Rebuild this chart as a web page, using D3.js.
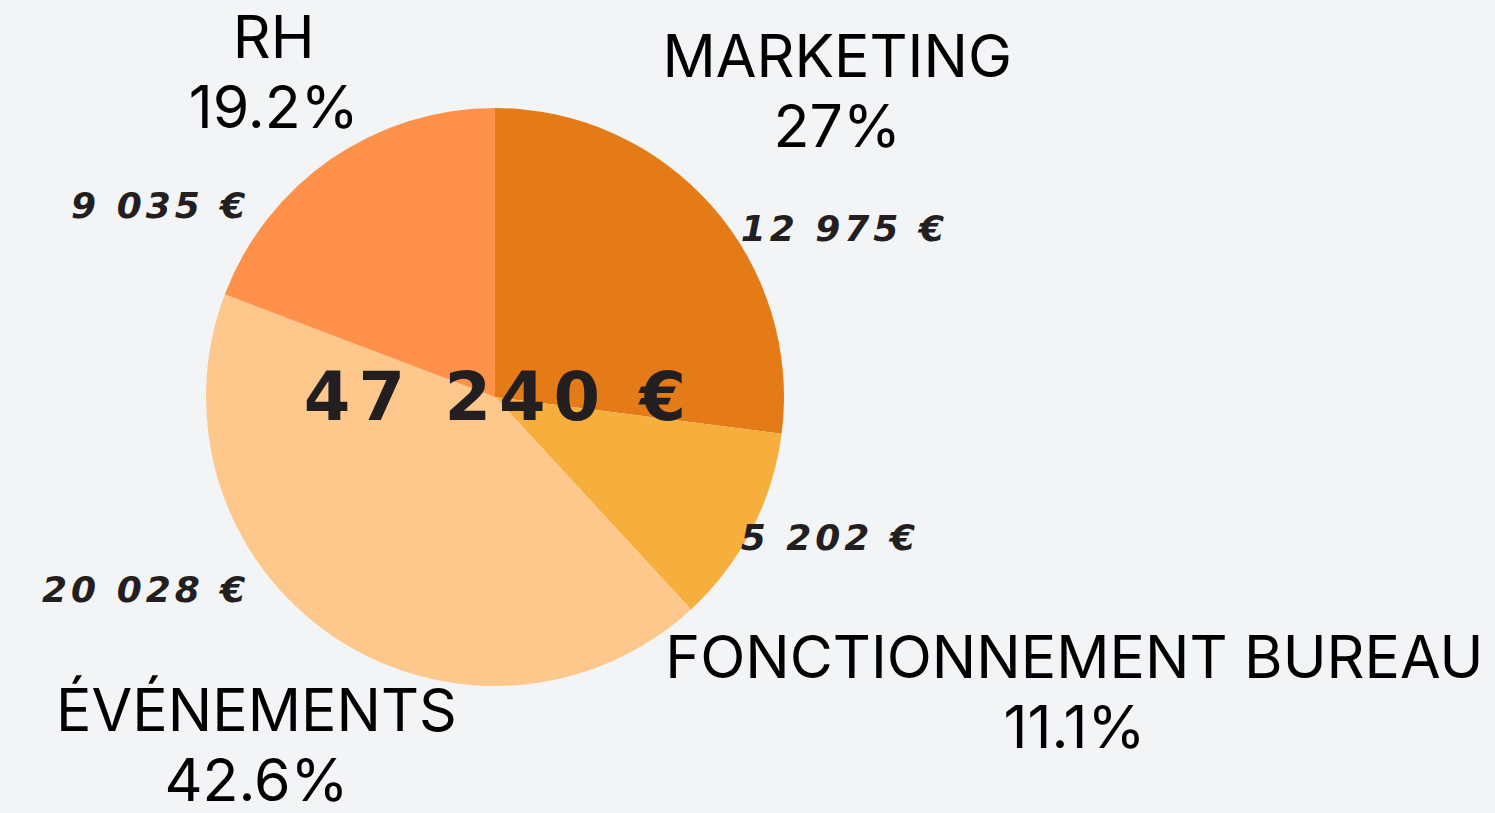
<!DOCTYPE html>
<html>
<head>
<meta charset="utf-8">
<script src="https://cdn.jsdelivr.net/npm/d3@7"></script>
<style>
  html, body { margin: 0; padding: 0; background: #f3f4f6; }
  svg { display: block; }
</style>
</head>
<body>
<div id="graf"></div>
<script>
// Répartition du budget (camembert)

// Données
categories  = ['MARKETING', 'FONCTIONNEMENT BUREAU', 'ÉVÉNEMENTS', 'RH']
percents    = [27, 11.1, 42.6, 19.2]
pctLabels   = ['27%', '11.1%', '42.6%', '19.2%']
amounts     = [12975, 5202, 20028, 9035]
totalAmount = 47240
colors      = ['#e57b17', '#f6ae3c', '#fec78b', '#ff914b']

ancho = 1495
alto  = 813
cx = 495
cy = 397
R  = 289

euro = v => d3.format(',')(v).replace(/,/g, ' ') + ' €'

svg = d3.select('#graf').append('svg')
        .attr('width', ancho)
        .attr('height', alto)

svg.append('rect')
  .attr('width', ancho)
  .attr('height', alto)
  .attr('fill', '#f3f4f6')

g = svg.append('g')
       .attr('transform', `translate(${cx}, ${cy})`)

datos = categories.map((c, i) => ({
  cat: c, pct: percents[i], label: pctLabels[i], amount: amounts[i], color: colors[i]
}))

pie = d3.pie().sort(null).value(d => d.pct)
arc = d3.arc().innerRadius(0).outerRadius(R)
arcs = pie(datos)

g.selectAll('path')
  .data(arcs)
  .enter().append('path')
  .attr('d', arc)
  .attr('fill', d => d.data.color)

// total au centre
g.append('text')
  .attr('x', 4)
  .attr('y', 23)
  .attr('text-anchor', 'middle')
  .attr('font-family', 'DejaVu Sans')
  .attr('font-weight', 'bold')
  .attr('font-size', '67px')
  .attr('letter-spacing', '8px')
  .attr('fill', '#231f20')
  .text(euro(totalAmount))

// montants
fsVal = 36
arcs.forEach(d => {
  a = (d.startAngle + d.endAngle) / 2
  right = Math.sin(a) >= 0
  c = Math.cos(a)
  yv = -R * (0.49 * c + 0.26 * Math.sign(c))
  g.append('text')
    .attr('x', right ? 0.85 * R : -0.85 * R)
    .attr('y', yv + fsVal * 0.36)
    .attr('text-anchor', right ? 'start' : 'end')
    .attr('font-family', 'DejaVu Sans')
    .attr('font-weight', 'bold')
    .attr('font-style', 'italic')
    .attr('font-size', fsVal + 'px')
    .attr('letter-spacing', '4px')
    .attr('fill', '#231f20')
    .text(euro(d.data.amount))
})

// libellés : poussés vers l'extérieur jusqu'à ce que la boîte ne touche plus le disque
function gap(d, u, hw, hh) {
  px = d * u[0]
  py = d * u[1]
  dx = Math.max(Math.abs(px) - hw, 0)
  dy = Math.max(Math.abs(py) - hh, 0)
  return Math.sqrt(dx * dx + dy * dy)
}

arcs.forEach(d => {
  a = (d.startAngle + d.endAngle) / 2
  u = [Math.sin(a), -Math.cos(a)]
  lg = g.append('g')
  t = lg.append('text')
        .attr('text-anchor', 'middle')
        .attr('font-family', 'Inter')
        .attr('font-size', '59px')
        .attr('fill', '#000')
  t.append('tspan').attr('x', 0).attr('y', 0).text(d.data.cat)
  t.append('tspan').attr('x', 0).attr('y', 70).text(d.data.label)
  bb = t.node().getBBox()
  hw = bb.width / 2
  hh = bb.height / 2
  lo = 0, hi = 2000
  for (k = 0; k < 60; k++) {
    mid = (lo + hi) / 2
    if (gap(mid, u, hw, hh) < R - 4) lo = mid
    else hi = mid
  }
  tx = hi * u[0] - (bb.x + hw)
  ty = hi * u[1] - (bb.y + hh) - 5
  lg.attr('transform', `translate(${tx}, ${ty})`)
})
</script>
</body>
</html>
